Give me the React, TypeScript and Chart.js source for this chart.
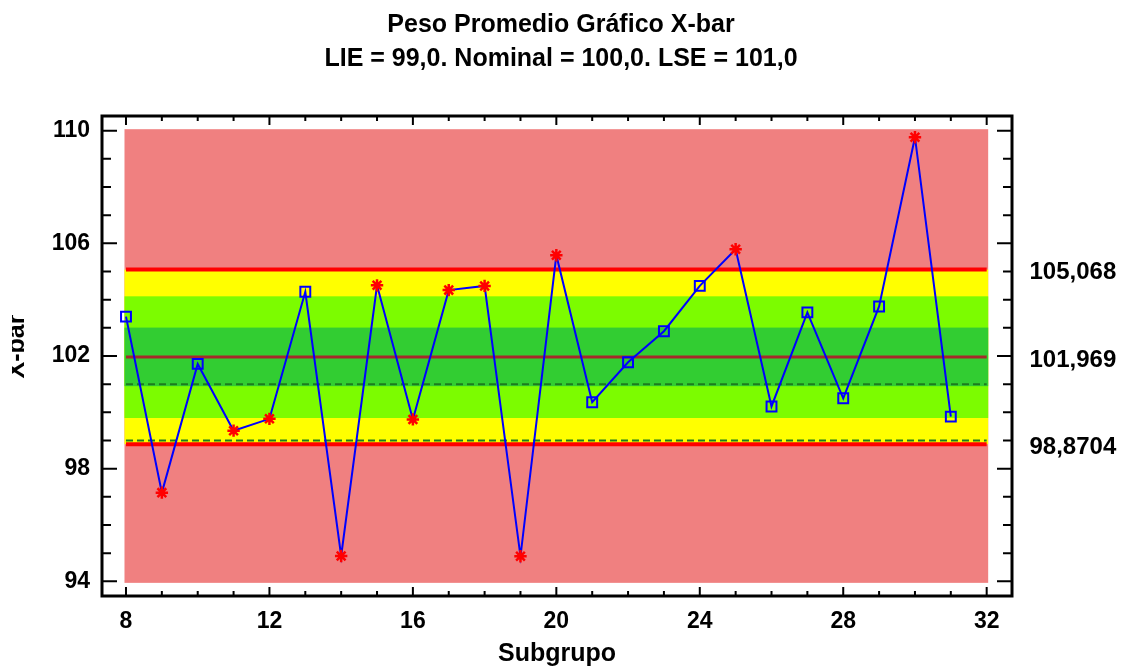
import React, { useEffect, useRef } from 'react';
import { Chart, registerables } from 'chart.js';

Chart.register(...registerables);

// ---------- data ----------
const titleLines = ['Peso Promedio Gráfico X-bar', 'LIE = 99,0. Nominal = 100,0. LSE = 101,0'];
const xAxisTitle = 'Subgrupo';
const yAxisTitle = 'X-bar';

const subgroups = [8, 9, 10, 11, 12, 13, 14, 15, 16, 17, 18, 19, 20, 21, 22, 23, 24, 25, 26, 27, 28, 29, 30, 31];
const xbarValues = [
  103.4, 97.15, 101.72, 99.35, 99.77, 104.28, 94.9, 104.51, 99.75, 104.34, 104.49, 94.89,
  105.58, 100.36, 101.78, 102.88, 104.49, 105.79, 100.21, 103.55, 100.5, 103.76, 109.77, 99.85,
];
// true = flagged point (red asterisk), false = normal point (blue square)
const alarmFlags = [
  false, true, false, true, true, false, true, true, true, true, true, true,
  true, false, false, false, false, true, false, false, false, false, true, false,
];

const xTickValues = [8, 12, 16, 20, 24, 28, 32];
const yTickValues = [94, 98, 102, 106, 110];
const controlLimits = [98.8704, 101.969, 105.068]; // LCL, CL, UCL
const sigmaZoneBounds = [99.8, 100.93, 103.01, 104.12]; // -2s, -1s, +1s, +2s
const specLimits = [99, 101]; // LIE, LSE
const backgroundRangeY = [94, 110];
const backgroundRangeX = [8, 32];

// ---------- look ----------
const FONT = "'Liberation Sans', Arial, Helvetica, sans-serif";
const X_MIN = 7.331;
const X_MAX = 32.706;
const Y_MIN = 93.48;
const Y_MAX = 110.522;

const fmtComma = (v: number) => String(v).replace('.', ',');

const zonesPlugin = {
  id: 'zones',
  beforeDatasetsDraw(chart: any) {
    const { ctx } = chart;
    const xs = chart.scales.x;
    const ys = chart.scales.y;
    const x0 = xs.getPixelForValue(backgroundRangeX[0]);
    const x1 = xs.getPixelForValue(backgroundRangeX[1]);
    const pad = 1.5;
    const band = (lo: number, hi: number, color: string, padY: number) => {
      const yt = ys.getPixelForValue(hi);
      const yb = ys.getPixelForValue(lo);
      ctx.fillStyle = color;
      ctx.fillRect(x0 - pad, yt - padY, x1 - x0 + 2 * pad, yb - yt + 2 * padY);
    };
    ctx.save();
    band(backgroundRangeY[0], backgroundRangeY[1], '#F08080', pad);
    band(controlLimits[0], controlLimits[2], '#FFFF00', 0);
    band(sigmaZoneBounds[0], sigmaZoneBounds[3], '#7CFC00', 0);
    band(sigmaZoneBounds[1], sigmaZoneBounds[2], '#32CD32', 0);

    const hline = (v: number, color: string, width: number, dash: number[]) => {
      const py = ys.getPixelForValue(v);
      ctx.beginPath();
      ctx.setLineDash(dash);
      ctx.strokeStyle = color;
      ctx.lineWidth = width;
      ctx.moveTo(x0, py);
      ctx.lineTo(x1, py);
      ctx.stroke();
    };
    specLimits.forEach((v) => hline(v, '#1E7B1E', 2, [7, 4]));
    hline(controlLimits[0], '#FF0000', 4, []);
    hline(controlLimits[2], '#FF0000', 4, []);
    hline(controlLimits[1], '#A52A2A', 3, []);
    ctx.restore();
  },
};

const framePlugin = {
  id: 'frame',
  afterDraw(chart: any) {
    const { ctx, chartArea } = chart;
    const xs = chart.scales.x;
    const ys = chart.scales.y;
    const L = chartArea.left;
    const R = chartArea.right;
    const T = chartArea.top;
    const B = chartArea.bottom;
    ctx.save();
    ctx.strokeStyle = '#000';
    ctx.lineWidth = 2;
    ctx.beginPath();
    for (let v = Math.ceil(Y_MIN); v <= Math.floor(Y_MAX); v++) {
      const len = yTickValues.includes(v) ? 15 : 9;
      const py = ys.getPixelForValue(v);
      ctx.moveTo(L, py);
      ctx.lineTo(L + len, py);
      ctx.moveTo(R, py);
      ctx.lineTo(R - len, py);
    }
    for (let v = Math.ceil(X_MIN); v <= Math.floor(X_MAX); v++) {
      const len = xTickValues.includes(v) ? 9 : 5;
      const px = xs.getPixelForValue(v);
      ctx.moveTo(px, B);
      ctx.lineTo(px, B - len);
      ctx.moveTo(px, T);
      ctx.lineTo(px, T + len);
    }
    ctx.stroke();
    ctx.lineWidth = 3;
    ctx.strokeRect(L, T, R - L, B - T);

    // rotated y-axis title, cropped at the left edge like the source image
    ctx.beginPath();
    ctx.rect(12, 0, 200, chart.height);
    ctx.clip();
    ctx.translate(24, 346.5);
    ctx.rotate(-Math.PI / 2);
    ctx.fillStyle = '#000';
    ctx.font = `bold 25px ${FONT}`;
    ctx.textAlign = 'center';
    ctx.textBaseline = 'alphabetic';
    ctx.fillText(yAxisTitle, 0, 0);
    ctx.restore();
  },
};

export default function App() {
  const ref = useRef<HTMLCanvasElement | null>(null);

  useEffect(() => {
    if (!ref.current) return;
    Chart.defaults.font.family = FONT;
    const points = subgroups.map((s, i) => ({ x: s, y: xbarValues[i] }));
    const chart = new Chart(ref.current, {
      type: 'line',
      data: {
        datasets: [
          {
            data: points,
            borderColor: '#0000FF',
            borderWidth: 2,
            tension: 0,
            fill: false,
            pointStyle: alarmFlags.map((f) => (f ? 'star' : 'rect')) as any,
            pointRadius: alarmFlags.map((f) => (f ? 6.2 : 7)),
            pointBorderColor: alarmFlags.map((f) => (f ? '#FF0000' : '#0000FF')),
            pointBackgroundColor: 'rgba(0,0,0,0)',
            pointBorderWidth: alarmFlags.map((f) => (f ? 2.5 : 2)),
          },
        ],
      },
      options: {
        responsive: false,
        devicePixelRatio: 1,
        animation: false,
        events: [],
        layout: { padding: 0 },
        plugins: {
          legend: { display: false },
          tooltip: { enabled: false },
          title: {
            display: true,
            text: titleLines,
            color: '#000',
            font: { family: FONT, size: 25, weight: 'bold', lineHeight: 34 / 25 },
            padding: { top: 7.7, bottom: 40.3 },
          },
        },
        scales: {
          x: {
            type: 'linear',
            min: X_MIN,
            max: X_MAX,
            afterBuildTicks: (s: any) => {
              s.ticks = xTickValues.map((v) => ({ value: v }));
            },
            afterFit: (s: any) => {
              s.height = 75;
            },
            ticks: {
              autoSkip: false,
              maxRotation: 0,
              color: '#000',
              padding: 13.8,
              font: { family: FONT, size: 23, weight: 'bold', lineHeight: 1 },
              callback: (v: any) => String(v),
            },
            grid: { display: false, drawTicks: false },
            border: { display: false },
            title: {
              display: true,
              text: xAxisTitle,
              color: '#000',
              font: { family: FONT, size: 25, weight: 'bold', lineHeight: 1 },
              padding: { top: 0, bottom: 4.5 },
            },
          },
          y: {
            type: 'linear',
            position: 'left',
            min: Y_MIN,
            max: Y_MAX,
            afterBuildTicks: (s: any) => {
              s.ticks = yTickValues.map((v) => ({ value: v }));
            },
            afterFit: (s: any) => {
              s.width = 102;
            },
            ticks: {
              autoSkip: false,
              color: '#000',
              padding: 12,
              font: { family: FONT, size: 23, weight: 'bold', lineHeight: 1 },
              callback: (v: any) => String(v),
            },
            grid: { display: false, drawTicks: false },
            border: { display: false },
          },
          y2: {
            type: 'linear',
            position: 'right',
            min: Y_MIN,
            max: Y_MAX,
            afterBuildTicks: (s: any) => {
              s.ticks = controlLimits.map((v) => ({ value: v }));
            },
            afterFit: (s: any) => {
              s.width = 110;
            },
            ticks: {
              autoSkip: false,
              color: '#000',
              padding: 17.5,
              labelOffset: 3,
              font: { family: FONT, size: 24, weight: 'bold', lineHeight: 1 },
              callback: (v: any) => fmtComma(Number(v)),
            },
            grid: { display: false, drawTicks: false },
            border: { display: false },
          },
        },
      },
      plugins: [zonesPlugin, framePlugin],
    });
    return () => chart.destroy();
  }, []);

  return (
    <div style={{ position: 'absolute', left: 0, top: 0, width: 1122, height: 671, background: '#fff' }}>
      <canvas ref={ref} width={1122} height={671} style={{ display: 'block' }} />
    </div>
  );
}
